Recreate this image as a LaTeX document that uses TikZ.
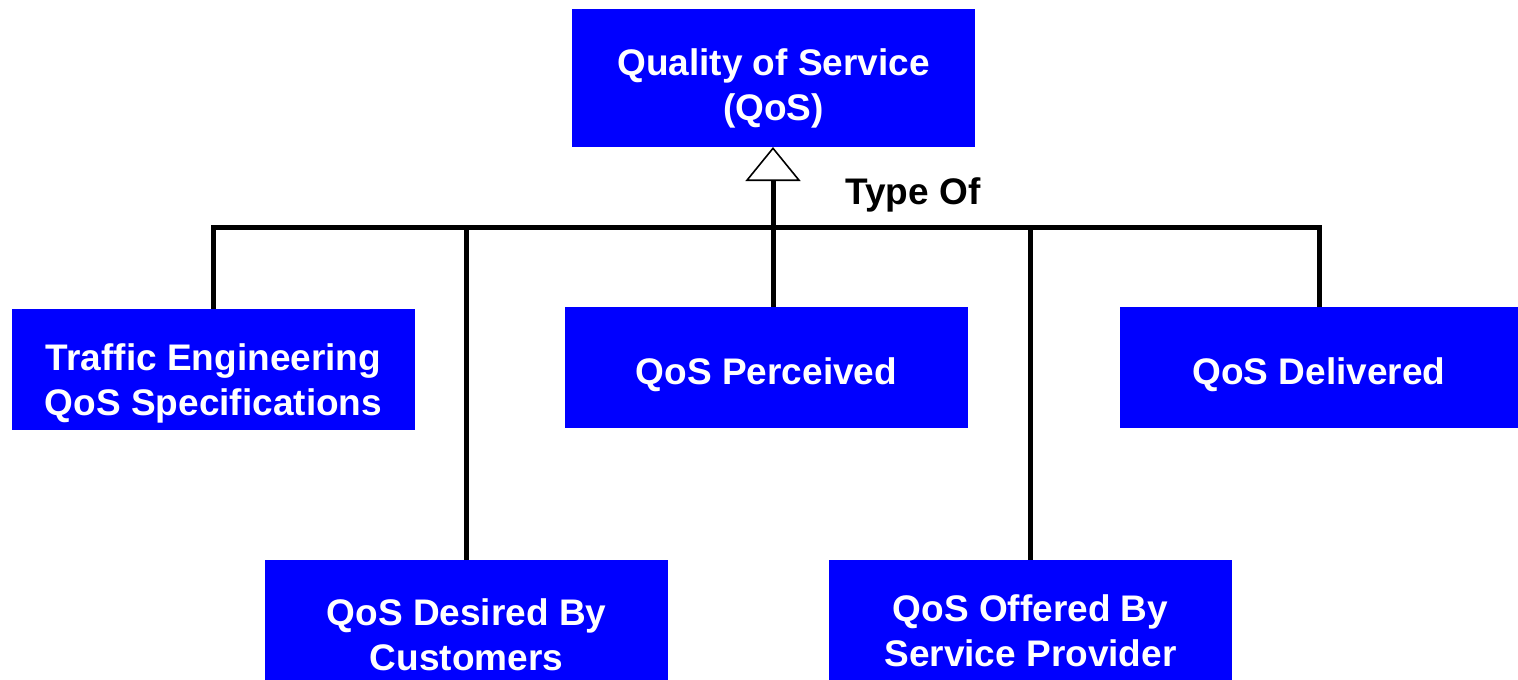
\documentclass[tikz,border=0pt]{standalone}
\usepackage{fontspec}
\setmainfont{Liberation Sans}
\usetikzlibrary{arrows.meta}
\begin{document}
\begin{tikzpicture}[x=1pt,y=-1pt,
  box/.style={draw=none,fill=qblue,minimum width=403pt,inner sep=0pt,outer sep=0pt},
  boxtext/.style={text=white,font=\bfseries\fontsize{37}{45}\selectfont,align=center,inner sep=0pt},
  conn/.style={line width=5pt,line join=miter},
  inherit/.style={line width=5pt,-{Triangle[open,length=34pt,width=55pt,line width=1.6pt]}}]
\definecolor{qblue}{RGB}{0,0,255}
\useasboundingbox (0,0) rectangle (1518,680);

% boxes
\node[box,minimum height=138pt] (qos) at (773.5,78) {};
\node[box,minimum height=121pt] (te)  at (213.5,369.5) {};
\node[box,minimum height=140pt] (des) at (466.5,630) {};
\node[box,minimum height=121pt] (per) at (766.5,367.5) {};
\node[box,minimum height=140pt] (off) at (1030.5,630) {};
\node[box,minimum width=398pt,minimum height=121pt] (del) at (1319,367.5) {};

% box texts
\node[boxtext] (qosT) at (773.5,88) {Quality of Service\\(QoS)};
\node[boxtext] (teT)  at (213.5,383.5) {Traffic Engineering\\QoS Specifications};
\node[boxtext] (desT) at (466.5,635) {QoS Desired By\\Customers};
\node[boxtext] (perT) at (766.5,375) {QoS Perceived};
\node[boxtext] (offT) at (1030.5,631) {QoS Offered By\\Service Provider};
\node[boxtext] (delT) at (1319,375) {QoS Delivered};

% generalisation bus
\coordinate (bus) at (0,227);
\coordinate (stem) at (773,0);
\draw[conn] (te.north) |- (del.north |- bus) -- (del.north);
\draw[conn] (des.north) -- (des.north |- bus);
\draw[conn] (off.north) -- (off.north |- bus);
\draw[inherit] (per.north -| stem) -- (qos.south -| stem);

\node[font=\bfseries\fontsize{37}{45}\selectfont,inner sep=0pt] (type) at (913,195) {Type Of};
\end{tikzpicture}
\end{document}
